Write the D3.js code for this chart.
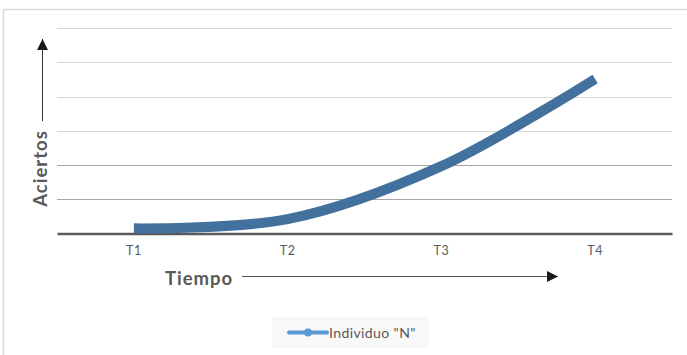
<!DOCTYPE html>
<html>
<head>
<meta charset="utf-8">
<script src="https://cdn.jsdelivr.net/npm/d3@7"></script>
<style>
  html, body { margin: 0; padding: 0; background: #fff; }
  svg { display: block; }
  text { font-family: Lato, "Open Sans", sans-serif; }
</style>
</head>
<body>
<svg id="chart" width="687" height="355"></svg>
<script>
// Time points and the individual's correct answers at each one
const categories = ["T1", "T2", "T3", "T4"];
const aciertos = [0.15, 0.42, 1.97, 4.52];
const yTicks = [0, 1, 2, 3, 4, 5, 6];
const seriesName = 'Individuo "N"';
const xTitle = "Tiempo";
const yTitle = "Aciertos";

const W = 687, H = 355;
const margin = { left: 57, right: 15, top: 28.3, bottom: 121.5 };
const svg = d3.select("#chart");

// outer chart frame
svg.append("rect")
  .attr("x", 3.5).attr("y", 9.5)
  .attr("width", 720).attr("height", 400)
  .attr("fill", "none").attr("stroke", "#d9d9d9").attr("stroke-width", 1.5);

const x = d3.scaleBand().domain(categories)
  .range([margin.left, W - margin.right]);
const y = d3.scaleLinear().domain([0, 6])
  .range([H - margin.bottom, margin.top]);

// horizontal gridlines
svg.append("g").selectAll("line")
  .data(yTicks.filter(d => d > 0))
  .join("line")
  .attr("x1", margin.left).attr("x2", W - margin.right)
  .attr("y1", d => Math.round(y(d)) + 0.5).attr("y2", d => Math.round(y(d)) + 0.5)
  .attr("stroke", d => d <= 2 ? "#a6a6a6" : "#d9d9d9")
  .attr("stroke-width", 1.2);

// category axis
const xAxis = svg.append("g")
  .attr("transform", `translate(0,${y(0)})`)
  .call(d3.axisBottom(x).tickSize(0).tickPadding(13));
xAxis.select(".domain").attr("stroke", "#595959").attr("stroke-width", 2.5);
xAxis.selectAll("text")
  .attr("fill", "#595959").attr("font-size", 12.5)
  .attr("letter-spacing", 0.6)
  .attr("font-family", "Lato, sans-serif");

// smoothed series line
const line = d3.line()
  .x((d, i) => x(categories[i]) + x.bandwidth() / 2)
  .y(d => y(d))
  .curve(d3.curveCatmullRom.alpha(0.5));
svg.append("path")
  .datum(aciertos)
  .attr("d", line)
  .attr("fill", "none")
  .attr("stroke", "#41719c")
  .attr("stroke-width", 10);

// arrow heads
const defs = svg.append("defs");
defs.append("marker")
  .attr("id", "head")
  .attr("viewBox", "0 0 10 10")
  .attr("refX", 10).attr("refY", 5)
  .attr("markerUnits", "userSpaceOnUse")
  .attr("markerWidth", 11).attr("markerHeight", 11)
  .attr("orient", "auto")
  .append("path").attr("d", "M0,0 L10,5 L0,10 Z").attr("fill", "#1a1a1a");

// y title with upward arrow
svg.append("text")
  .attr("transform", `translate(47,168.5) rotate(-90)`)
  .attr("text-anchor", "middle")
  .attr("font-size", 18.5).attr("font-weight", "bold")
  .attr("letter-spacing", 1)
  .attr("fill", "#595959")
  .text(yTitle);
svg.append("line")
  .attr("x1", 42.5).attr("x2", 42.5).attr("y1", 121).attr("y2", 39)
  .attr("stroke", "#333").attr("stroke-width", 1)
  .attr("marker-end", "url(#head)");

// x title with rightward arrow
svg.append("text")
  .attr("x", 165).attr("y", 284.5)
  .attr("font-size", 18.5).attr("font-weight", "bold")
  .attr("letter-spacing", 1)
  .attr("fill", "#595959")
  .text(xTitle);
svg.append("line")
  .attr("x1", 242).attr("x2", 558).attr("y1", 276.5).attr("y2", 276.5)
  .attr("stroke", "#555").attr("stroke-width", 1)
  .attr("marker-end", "url(#head)");

// legend
const lg = svg.append("g");
lg.append("rect")
  .attr("x", 272).attr("y", 317).attr("width", 157).attr("height", 31)
  .attr("fill", "#f8f8f8");
lg.append("line")
  .attr("x1", 289).attr("x2", 327).attr("y1", 332.5).attr("y2", 332.5)
  .attr("stroke", "#5b9bd5").attr("stroke-width", 4).attr("stroke-linecap", "round");
lg.append("circle")
  .attr("cx", 308).attr("cy", 332.5).attr("r", 4)
  .attr("fill", "#5b9bd5");
lg.append("text")
  .attr("x", 329).attr("y", 337.5)
  .attr("font-size", 14).attr("letter-spacing", 0.4).attr("fill", "#595959")
  .text(seriesName);
</script>
</body>
</html>
